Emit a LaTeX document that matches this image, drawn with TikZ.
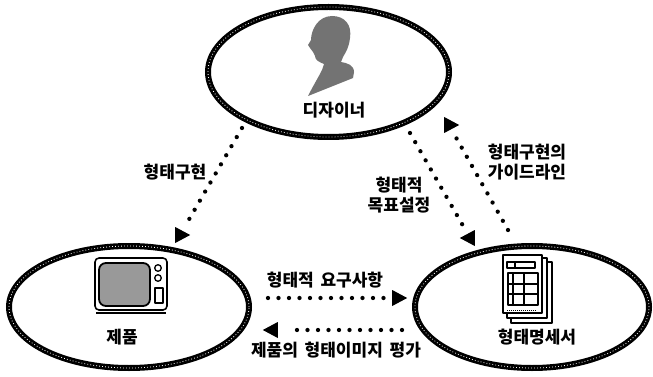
\documentclass[tikz,border=0pt]{standalone}
\usepackage{fontspec}
\newfontfamily\kr{Noto Sans CJK KR}
\usetikzlibrary{shapes.geometric}

\begin{document}
\begin{tikzpicture}[x=1pt,y=-1pt,
  oval/.style={ellipse, draw=black, line width=6pt, inner sep=0pt,
    postaction={draw=white, line width=0.8pt, dash pattern=on 0.8pt off 2.2pt}},
  lbl/.style={font=\kr\bfseries\fontsize{17}{20.5}\selectfont, inner sep=0pt, align=center},
  flow/.style={line width=4.3pt, line cap=round, dash pattern=on 0pt off 10.5pt},
  tipR/.style={isosceles triangle, isosceles triangle stretches, fill=black,
    inner sep=0pt, minimum width=16pt, minimum height=15pt, shape border rotate=0},
  tipL/.style={tipR, shape border rotate=180},
  ink/.style={draw=black, line join=round},
]
\useasboundingbox (0,0) rectangle (653,377);
\fill[white] (0,0) rectangle (653,377);

% the three ovals
\node[oval, minimum width=241pt, minimum height=130pt] (des) at (328.5,72) {};
\node[oval, minimum width=240pt, minimum height=122pt] (prod) at (129,307) {};
\node[oval, minimum width=234pt, minimum height=122pt] (spec) at (532,307) {};

% designer silhouette
\fill[black!55] (332,16) .. controls (345,16) and (352,25) .. (350,38)
  .. controls (349,47) and (346,52) .. (343,57) -- (341,62)
  .. controls (347,63) and (354,65) .. (354,72) -- (353,78) -- (308,96)
  .. controls (313,86) and (318,78) .. (322,70) -- (324,64)
  .. controls (319,62) and (315,60) .. (315,56) -- (313,52) -- (310,48)
  -- (308,45) -- (311,40) .. controls (311,30) and (318,16) .. (332,16) -- cycle;

% television
\draw[ink, line width=1.6pt, rounded corners=4pt] (95,258) rectangle (167,310);
\draw[ink, line width=1.8pt, rounded corners=7pt, fill=black!40] (99,263) rectangle (150,306);
\draw[ink, line width=1.3pt] (158,268) circle (3.3) (158,278) circle (3.3);
\draw[ink, line width=1.5pt] (155,288) rectangle (163,303);
\draw[ink, line width=2.2pt] (96,313) -- (166,313);

% specification sheets
\filldraw[ink, fill=white, line width=1.5pt] (511,262) rectangle (552,323);
\filldraw[ink, fill=white, line width=1.5pt] (507,258) rectangle (547,318);
\filldraw[ink, fill=white, line width=1.6pt] (503,255) rectangle (542,313);
\draw[ink, line width=1.2pt] (507,262) rectangle (535,268) (515,262) -- (515,268);
\draw[ink, line width=2pt] (508,273) rectangle (538,305)
  (513,273) -- (513,305) (524,273) -- (524,305)
  (508,284) -- (538,284) (508,294) -- (538,294);
\draw[ink, line width=1pt, dash pattern=on 1pt off 1pt] (507,310) -- (537,310);

% labels inside the ovals
\node[lbl] (desL) at (334,110) {디자이너};
\node[lbl] (prodL) at (122,337) {제품};
\node[lbl] (specL) at (537,337) {형태명세서};

% connector end points
\coordinate (a1) at (242,128); \coordinate (b1) at (180,235);
\coordinate (a2) at (410,133); \coordinate (b2) at (470,238);
\coordinate (a3) at (508,230); \coordinate (b3) at (449,125);
\coordinate (a4) at (268,298); \coordinate (b4) at (397,298);
\coordinate (a5) at (402,330); \coordinate (b5) at (273,330);

% dotted flows with their heads
\draw[flow, shorten >=12pt] (a1) -- (b1); \node[tipR] (t1) at (b1) {};
\draw[flow, shorten >=12pt] (a2) -- (b2); \node[tipL] (t2) at (b2) {};
\draw[flow, shorten >=12pt] (a3) -- (b3); \node[tipR] (t3) at (b3) {};
\draw[flow, shorten >=10pt] (a4) -- (b4); \node[tipR] (t4) at (b4) {};
\draw[flow, shorten >=16pt] (a5) -- (b5); \node[tipL] (t5) at (b5) {};

% flow labels
\node[lbl] (l1) at (175,172) {형태구현};
\node[lbl] (l2) at (399,195) {형태적\\목표설정};
\node[lbl] (l3) at (527,162) {형태구현의\\가이드라인};
\node[lbl] (l4) at (325,280) {형태적\hspace{0.4em}요구사항};
\node[lbl] (l5) at (336,350) {제품의\hspace{0.4em}형태이미지\hspace{0.4em}평가};
\end{tikzpicture}
\end{document}
